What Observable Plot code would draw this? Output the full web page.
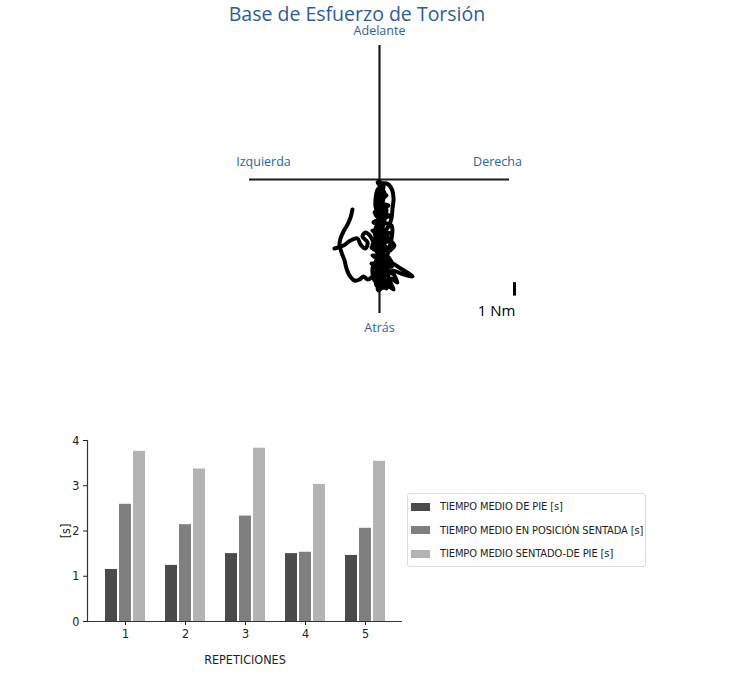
<!DOCTYPE html>
<html>
<head>
<meta charset="utf-8">
<script src="https://cdn.jsdelivr.net/npm/d3@7"></script>
<script src="https://cdn.jsdelivr.net/npm/@observablehq/plot@0.6"></script>
<style>
  html, body { margin: 0; padding: 0; background: #fff; }
  #root { position: relative; width: 734px; height: 674px; overflow: hidden; }
  #title { position: absolute; left: 0; top: 0; width: 714px; text-align: center;
           font: 19.5px "Open Sans", "Noto Sans", sans-serif; color: #2b5c9c; line-height: normal; }
  #top { position: absolute; left: 0; top: 0; }
  #bottom { position: absolute; left: 0; top: 420px; }
  #legend { position: absolute; left: 407px; top: 493px; width: 237px; height: 71px;
            border: 1px solid #dcdcdc; border-radius: 3px; padding-top: 1px; box-sizing: content-box; }
  #legend .lg-swatches { margin: 0 !important; font-family: "Liberation Sans Narrow", "DejaVu Sans Condensed", sans-serif !important;
            font-size: 11px !important; letter-spacing: -0.1px; color: #222; columns: auto !important; width: 237px !important; }
  #legend .lg-swatch { height: 23.5px !important; padding: 0 0 0 3px !important; display: flex !important;
            align-items: center !important; white-space: nowrap !important; }
  #legend .lg-swatch * { overflow: visible !important; text-overflow: clip !important; max-width: none !important; }
  #legend .lg-swatch svg { margin-right: 10px !important; flex-shrink: 0; }
</style>
</head>
<body>
<div id="root">
  <div id="top"></div>
  <div id="title"></div>
  <div id="bottom"></div>
  <div id="legend"></div>
</div>
<script>
// ---------- Top chart: torque trajectory (Nm) ----------
const crossExtent = 10;          // half-length of the reference cross, Nm
const scaleBarNm = 1;            // scale bar length, Nm
const scaleBarLabel = "1 Nm";
const directionLabels = ["Adelante", "Atrás", "Izquierda", "Derecha"];
const chartTitle = "Base de Esfuerzo de Torsión";

const trajX = [-2.08,-2.23,-2.46,-2.77,-3.00,-3.08,-2.92,-2.69,-2.54,-2.31,-1.92,-1.54,-1.23,-0.92,-0.62,-0.38,-0.23,
  -0.23,0.38,-0.38,0.69,-0.46,1.08,-0.62,0.92,-0.54,0.77,-0.62,0.85,-0.46,1.00,-0.54,0.85,-0.23,0.38,-0.31,0.31,-0.15,0.23,
  -0.15,0.31,-0.23,0.54,-0.31,0.69,-0.38,0.77,-0.46,0.92,-0.08,0.46,1.08,0.77,
  0.08,-0.23,0.38,-0.15,0.31,-0.08,0.15,-0.08,0.31,0.08,0.54,0.00,0.46,-0.08,0.54,0.15,-0.15,0.08,0.38,0.85,1.62,2.54,
  1.62,1.00,1.38,0.85,0.54,0.23,-0.31,-0.54,-0.08,-0.54,0.15,-0.23,0.23,-0.15,0.15,0.08,0.54,0.92,1.08,1.00,0.92,0.69,
  0.38,0.85,1.15,0.69,0.31,0.15,0.38,0.23,0.38,-0.08,-0.31,0.00,-0.38,0.08,-0.23,0.31,1.00,0.69,0.00,-0.38,-0.69,-1.08,
  -1.31,-0.92,-1.08,-1.46,-1.69,-2.23,-2.77,-3.46];
const trajY = [-2.24,-2.84,-3.36,-3.88,-4.40,-4.85,-5.45,-6.04,-6.64,-7.16,-7.54,-7.46,-7.24,-7.46,-7.31,-6.94,-6.19,
  -7.91,-8.06,-7.39,-7.69,-6.79,-7.01,-6.27,-6.49,-5.67,-5.90,-5.07,-5.30,-4.40,-4.70,-3.81,-4.03,-3.66,-3.21,-2.61,-2.01,-1.42,-0.82,
  -0.22,-0.52,-0.97,-1.19,-1.72,-1.94,-2.46,-2.69,-3.21,-3.43,-8.28,-7.84,-8.21,-7.54,
  -5.30,-4.55,-3.96,-3.21,-2.46,-1.57,-0.82,-0.15,-0.45,-1.42,-2.31,-3.51,-4.55,-5.75,-6.64,-7.69,-8.21,-7.24,-6.19,-6.19,-6.64,-7.24,
  -7.01,-6.79,-7.69,-7.39,-8.13,-7.39,-7.61,-6.64,-5.67,-4.85,-4.25,-3.51,-2.91,-2.16,-1.27,-0.37,-0.30,-0.67,-1.42,-2.16,-2.91,-3.51,
  -3.96,-4.55,-4.93,-5.30,-5.00,-3.96,-3.06,-1.79,-0.97,-0.67,-2.01,-2.91,-3.96,-5.00,-5.90,-6.49,-6.42,-5.82,-5.30,-4.85,-4.25,-3.96,
  -4.25,-4.70,-5.15,-4.85,-4.40,-4.55,-4.93,-5.15];
const trajectory = trajX.map((x, i) => ({x, y: trajY[i]}));

const blue = "#2f62a3";
const labelFont = {fontFamily: "'Open Sans', 'Noto Sans', sans-serif", fontSize: 12.5, fill: blue};

const topPlot = Plot.plot({
  width: 734,
  height: 340,
  x: {domain: [-crossExtent, crossExtent], range: [249, 509], axis: null},
  y: {domain: [-crossExtent, crossExtent], range: [313, 45], axis: null},
  style: {background: "transparent", overflow: "visible"},
  marks: [
    Plot.ruleY([0], {x1: -crossExtent, x2: crossExtent, stroke: "#1a1a1a", strokeWidth: 2.2}),
    Plot.ruleX([0], {y1: -crossExtent, y2: crossExtent, stroke: "#1a1a1a", strokeWidth: 2.2}),
    Plot.line(trajectory, {x: "x", y: "y", stroke: "#000", strokeWidth: 4, curve: "catmull-rom",
                           strokeLinejoin: "round", strokeLinecap: "round"}),
    Plot.text([directionLabels[0]], {x: 0, y: crossExtent, text: d => d, dy: -15, ...labelFont}),
    Plot.text([directionLabels[1]], {x: 0, y: -crossExtent, text: d => d, dy: 14, ...labelFont}),
    Plot.text([directionLabels[2]], {x: -crossExtent, y: 0, text: d => d, dx: 14, dy: -18, ...labelFont}),
    Plot.text([directionLabels[3]], {x: crossExtent, y: 0, text: d => d, dx: -12, dy: -18, ...labelFont}),
    Plot.ruleX([crossExtent], {y1: -crossExtent + 1.3, y2: -crossExtent + 1.3 + scaleBarNm, dx: 5,
                               stroke: "#000", strokeWidth: 3}),
    Plot.text([scaleBarLabel], {x: crossExtent, y: -crossExtent + 1.3, text: d => d, dx: 6, dy: 15,
                                textAnchor: "end", fontFamily: "'Open Sans', sans-serif", fontSize: 15, fill: "#000"})
  ]
});
document.getElementById("top").appendChild(topPlot);
document.getElementById("title").textContent = chartTitle;

// ---------- Bottom chart: grouped bars ----------
const reps = [1, 2, 3, 4, 5];
const seriesNames = [
  "TIEMPO MEDIO DE PIE [s]",
  "TIEMPO MEDIO EN POSICIÓN SENTADA [s]",
  "TIEMPO MEDIO SENTADO-DE PIE [s]"
];
const tiempoDePie        = [1.15, 1.24, 1.50, 1.50, 1.46];
const tiempoSentada      = [2.59, 2.14, 2.33, 1.53, 2.06];
const tiempoSentadoDePie = [3.76, 3.37, 3.83, 3.03, 3.54];
const yTicks = [0, 1, 2, 3, 4];
const xLabel = "REPETICIONES";
const yLabel = "[s]";
const grays = ["#4b4b4b", "#7f7f7f", "#b3b3b3"];

const seriesValues = [tiempoDePie, tiempoSentada, tiempoSentadoDePie];
const barData = seriesValues.flatMap((vals, s) =>
  vals.map((v, i) => ({rep: reps[i], serie: seriesNames[s], s, value: v})));

const narrow = "'Liberation Sans Narrow', 'DejaVu Sans Condensed', sans-serif";
const barStep = 14; // px between bar centers within a group

const bottomPlot = Plot.plot({
  width: 420,
  height: 254,
  marginLeft: 87,
  marginRight: 18,
  marginTop: 20,
  marginBottom: 53,
  style: {fontFamily: narrow, fontSize: "12.5px", color: "#222", background: "transparent", overflow: "visible"},
  x: {domain: reps, paddingInner: 0.8023, paddingOuter: 0.496, tickSize: 4, tickPadding: 4,
      label: xLabel, labelAnchor: "center", labelOffset: 42, labelArrow: "none"},
  y: {domain: [0, 4], ticks: yTicks, tickSize: 4, tickPadding: 4, tickFormat: d3.format("d"),
      label: yLabel, labelAnchor: "center", labelOffset: 26, labelArrow: "none"},
  color: {domain: seriesNames, range: grays},
  marks: [
    ...seriesNames.map((name, s) =>
      Plot.barY(barData.filter(d => d.s === s), {x: "rep", y: "value", fill: "serie", dx: (s - 1) * barStep})),
    Plot.ruleY([0], {stroke: "#333", strokeWidth: 1.2}),
    Plot.frame({anchor: "left", stroke: "#333", strokeWidth: 1.2})
  ]
});
document.getElementById("bottom").appendChild(bottomPlot);

const legend = bottomPlot.legend("color", {columns: 1, swatchWidth: 19, swatchHeight: 8, className: "lg"});
document.getElementById("legend").appendChild(legend);
</script>
</body>
</html>
